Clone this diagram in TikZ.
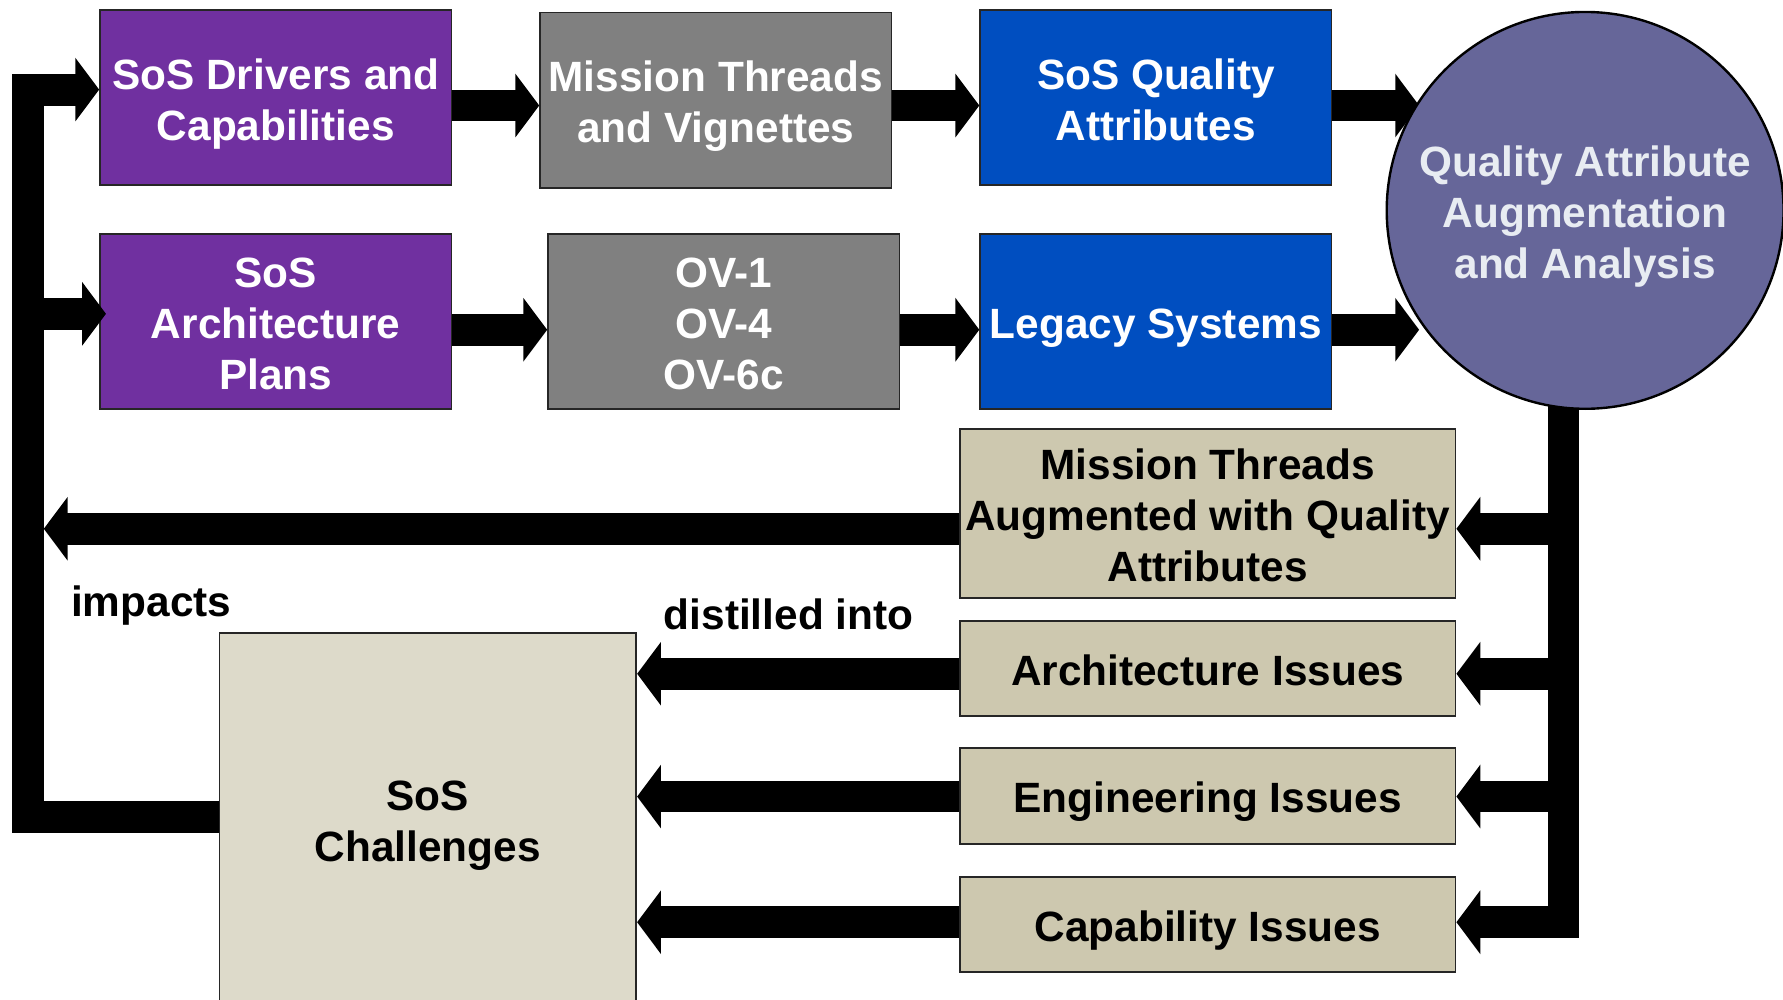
\documentclass[tikz,border=0pt]{standalone}
\usepackage{fontspec}
\setmainfont{Liberation Sans}
\usetikzlibrary{arrows.meta,calc,backgrounds}
\definecolor{cpurple}{RGB}{112,48,160}
\definecolor{cgray}{RGB}{128,128,128}
\definecolor{cblue}{RGB}{0,78,192}
\definecolor{ccirc}{RGB}{102,102,153}
\definecolor{ctan}{RGB}{205,200,175}
\definecolor{cchal}{RGB}{221,218,202}
\definecolor{clight}{RGB}{232,236,242}
\newcommand{\T}{\rule{0pt}{11pt}}
\newcommand{\B}{\rule[-2.5pt]{0pt}{2.5pt}}
\begin{document}
\begin{tikzpicture}[x=0.1mm,y=-0.1mm,
  txt/.style={font=\fontsize{10.6pt}{12.8pt}\selectfont\bfseries, align=center, inner sep=0pt},
  box/.style={txt, draw=black!85, line width=0.45pt, rectangle, minimum width=30.9mm, minimum height=15.4mm},
  topbox/.style={box, text=white},
  issue/.style={box, fill=ctan, text=black, minimum width=43.6mm, minimum height=8.4mm},
  arr/.style={line width=2.8mm, line join=miter, -{Triangle[length=2.1mm,width=5.5mm]}},
  bar/.style={line width=2.8mm, line join=miter}]
\useasboundingbox (0,0) rectangle (1568,879);

% nodes
\node[topbox, fill=cpurple] (b1) at (242.5,86) {\T SoS Drivers and\\Capabilities\B};
\node[topbox, fill=cgray]   (b2) at (629.5,88) {\T Mission Threads\\and Vignettes\B};
\node[topbox, fill=cblue]   (b3) at (1016.5,86) {\T SoS Quality\\Attributes\B};
\node[topbox, fill=cpurple] (b4) at (242.5,283) {\T SoS\\Architecture\\Plans\B};
\node[topbox, fill=cgray]   (b5) at (636.5,283) {\T OV-1\\OV-4\\OV-6c\B};
\node[topbox, fill=cblue]   (b6) at (1016.5,283) {\T Legacy Systems\B};
\node[txt, circle, draw=black, line width=0.6pt, fill=ccirc, text=clight, minimum size=34.9mm] (circ) at (1394,185) {\T Quality Attribute\\Augmentation\\and Analysis\B};
\node[issue, minimum height=14.9mm] (mtaug) at (1062,451.5) {\T Mission Threads\\Augmented with Quality\\Attributes\B};
\node[issue] (arch) at (1062,588) {\T Architecture Issues\B};
\node[issue] (eng)  at (1062,700) {\T Engineering Issues\B};
\node[issue] (cap)  at (1062,813) {\T Capability Issues\B};
\node[box, fill=cchal, minimum width=36.65mm, minimum height=32.6mm] (chal) at (376.25,720) {\T SoS\\Challenges\B};
\node[txt] (imp) at (133,527) {\T impacts\B};
\node[txt] (dist) at (693.5,539) {\T distilled into\B};

% coordinates
\coordinate (lb) at (24.5,718.5);
\coordinate (lt) at (24.5,78.8);
\coordinate (l2) at (24.5,276);
\coordinate (l3) at (38.5,465);
\coordinate (t1) at (0,92.8);
\coordinate (t2) at (0,290);
\coordinate (c1) at (1248,92.8);
\coordinate (c2) at (1248,290);
\coordinate (rtop) at (1375,340);
\coordinate (rb) at (1375,811);
\coordinate (r1) at (1375,465);
\coordinate (r2) at (1375,592.5);
\coordinate (r3) at (1375,700.5);

\begin{scope}[on background layer]
  \fill[white] (0,0) rectangle (1568,879);
  \draw[arr] (b3.east|-t1) -- (c1);
  \draw[arr] (b6.east|-t2) -- (c2);
  \draw[arr] (rtop) -- (rb) -- (cap.east|-rb);
  \draw[arr] (r1) -- (mtaug.east|-r1);
  \draw[arr] (r2) -- (arch.east|-r2);
  \draw[arr] (r3) -- (eng.east|-r3);
\end{scope}

% connectors
\draw[arr] (chal.west|-lb) -- (lb) -- (lt) -- (b1.west|-lt);
\draw[arr] (l2) -- ($(b4.west|-l2)+(6,0)$);
\draw[arr] (b1.east|-t1) -- (b2.west|-t1);
\draw[arr] (b2.east|-t1) -- (b3.west|-t1);
\draw[arr] (b4.east|-t2) -- (b5.west|-t2);
\draw[arr] (b5.east|-t2) -- (b6.west|-t2);
\draw[arr] (mtaug.west|-r1) -- (l3);
\draw[arr] (arch.west|-r2) -- (chal.east|-r2);
\draw[arr] (eng.west|-r3) -- (chal.east|-r3);
\draw[arr] (cap.west|-rb) -- (chal.east|-rb);
\end{tikzpicture}
\end{document}
